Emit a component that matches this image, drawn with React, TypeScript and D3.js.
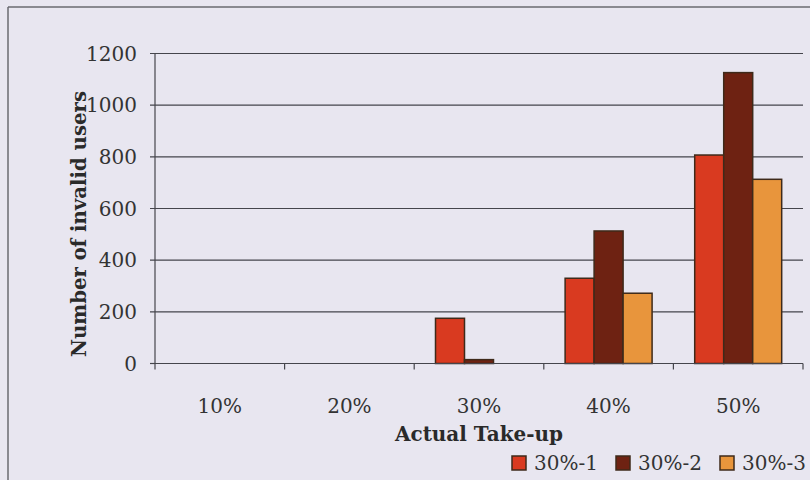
import React from "react";
import * as d3 from "d3";

const categories = ["10%", "20%", "30%", "40%", "50%"];
const seriesNames = ["30%-1", "30%-2", "30%-3"];
const series1 = [0, 0, 175, 330, 807];
const series2 = [0, 0, 15, 513, 1126];
const series3 = [0, 0, 0, 272, 713];
const yTicks = [0, 200, 400, 600, 800, 1000, 1200];
const colors = ["#d93a20", "#6e2212", "#e8953c"];

const W = 810;
const H = 480;
const left = 155;
const right = 803;
const top = 53.5;
const bottom = 363.5;
const font = "'DejaVu Serif', 'Liberation Serif', serif";

export default function App() {
  const x = d3.scaleBand<string>().domain(categories).range([left, right]).paddingInner(0).paddingOuter(0);
  const inner = d3
    .scaleBand<string>()
    .domain(seriesNames)
    .range([0, x.bandwidth()])
    .paddingOuter(0.735)
    .paddingInner(0);
  const y = d3.scaleLinear().domain([0, 1200]).range([bottom, top]);
  const data = [series1, series2, series3];
  const boundaries = d3.range(categories.length + 1).map((i) => left + i * x.step());

  return (
    <svg
      width={W}
      height={H}
      style={{ position: "absolute", left: 0, top: 0 }}
      xmlns="http://www.w3.org/2000/svg"
    >
      <rect x={0} y={0} width={W} height={H} fill="#e8e6f0" />
      <line x1={8} y1={7} x2={W} y2={7} stroke="#6a6a70" strokeWidth={1.5} />
      <line x1={8} y1={7} x2={8} y2={H} stroke="#6a6a70" strokeWidth={1.5} />

      {yTicks.map((t) => (
        <g key={t}>
          <line x1={left - 5} x2={t === 0 ? left : right} y1={y(t)} y2={y(t)} stroke="#45454c" strokeWidth={1.2} />
          <text
            x={137}
            y={y(t)}
            dy="0.36em"
            textAnchor="end"
            fontFamily={font}
            fontSize={20}
            fill="#333"
          >
            {t}
          </text>
        </g>
      ))}

      {data.map((vals, si) =>
        vals.map((v, ci) =>
          v > 0 ? (
            <rect
              key={`${si}-${ci}`}
              x={(x(categories[ci]) as number) + (inner(seriesNames[si]) as number)}
              y={y(v)}
              width={inner.bandwidth()}
              height={y(0) - y(v)}
              fill={colors[si]}
              stroke="#3e2a1a"
              strokeWidth={1.5}
            />
          ) : null
        )
      )}

      <line x1={left} x2={left} y1={top} y2={bottom} stroke="#45454c" strokeWidth={1.2} />
      <line x1={left} x2={right} y1={bottom} y2={bottom} stroke="#45454c" strokeWidth={1.2} />
      {boundaries.map((b, i) => (
        <line key={i} x1={b} x2={b} y1={bottom} y2={bottom + 6} stroke="#45454c" strokeWidth={1.2} />
      ))}

      {categories.map((c) => (
        <text
          key={c}
          x={(x(c) as number) + x.bandwidth() / 2}
          y={413}
          textAnchor="middle"
          fontFamily={font}
          fontSize={20}
          fill="#333"
        >
          {c}
        </text>
      ))}

      <text
        x={479}
        y={441}
        textAnchor="middle"
        fontFamily={font}
        fontSize={20}
        fontWeight="bold"
        fill="#2a2a2a"
        textLength={168}
        lengthAdjust="spacingAndGlyphs"
      >
        Actual Take-up
      </text>

      <text
        transform={`translate(86, 224) rotate(-90)`}
        textAnchor="middle"
        fontFamily={font}
        fontSize={20}
        fontWeight="bold"
        fill="#2a2a2a"
        textLength={266}
        lengthAdjust="spacingAndGlyphs"
      >
        Number of invalid users
      </text>

      {seriesNames.map((s, i) => {
        const lx = 512 + i * 104;
        return (
          <g key={s}>
            <rect x={lx} y={456} width={14} height={14} fill={colors[i]} stroke="#3e2a1a" strokeWidth={1.5} />
            <text x={lx + 22} y={470} fontFamily={font} fontSize={20} fill="#333">
              {s}
            </text>
          </g>
        );
      })}
    </svg>
  );
}
